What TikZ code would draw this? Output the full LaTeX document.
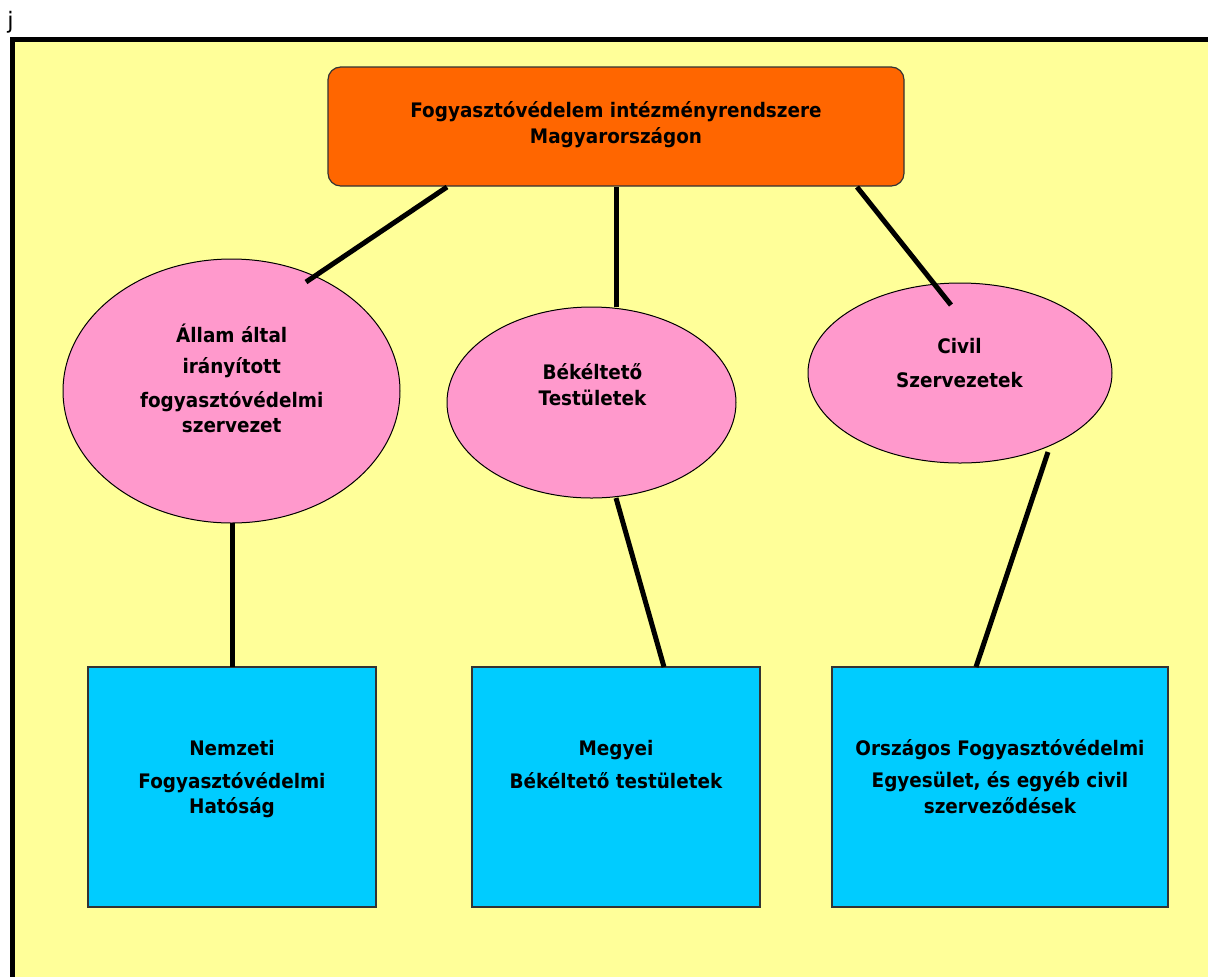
\documentclass[tikz,border=0pt]{standalone}
\usepackage{fontspec}
\setmainfont{DejaVu Sans}[FakeStretch=0.92]
\newfontfamily\jfont{DejaVu Sans}
\usetikzlibrary{shapes.geometric}
\definecolor{bgyellow}{HTML}{FFFF99}
\definecolor{toporange}{HTML}{FF6600}
\definecolor{elpink}{HTML}{FF99CC}
\definecolor{boxcyan}{HTML}{00CCFF}
\definecolor{edgegray}{HTML}{333333}
\tikzset{
  topbox/.style={draw=edgegray, line width=0.9pt, fill=toporange, rounded corners=9.5pt,
    inner sep=0pt, minimum width=576*0.75pt, minimum height=119*0.75pt},
  ovalbox/.style={ellipse, draw=black, line width=0.75pt, fill=elpink, inner sep=0pt},
  leafbox/.style={rectangle, draw=edgegray, line width=0.9pt, fill=boxcyan, inner sep=0pt,
    minimum height=240*0.75pt},
  link/.style={line width=3.75pt, black},
  lbl/.style={anchor=base, inner sep=0pt, font=\bfseries\fontsize{15pt}{18pt}\selectfont}
}
\begin{document}
\begin{tikzpicture}[x=0.75pt, y=-0.75pt]
\useasboundingbox (0,0) rectangle (1208,976);
% frame
\fill[white] (0,0) rectangle (1208,976);
\draw[line width=3.75pt, fill=bgyellow] (12.5,39.5) rectangle (1240,1010);
\node[anchor=base, inner sep=0pt, font=\jfont\fontsize{17pt}{20pt}\selectfont] (jlabel) at (10.5,28) {j};

% shapes
\node[topbox] (top) at (616,126.5) {};
\node[ovalbox, minimum width=337*0.75pt, minimum height=264*0.75pt] (e1) at (231.5,391) {};
\node[ovalbox, minimum width=289*0.75pt, minimum height=191*0.75pt] (e2) at (591.5,402.5) {};
\node[ovalbox, minimum width=304*0.75pt, minimum height=180*0.75pt] (e3) at (960,373) {};
\node[leafbox, minimum width=288*0.75pt] (r1) at (232,787) {};
\node[leafbox, minimum width=288*0.75pt] (r2) at (616,787) {};
\node[leafbox, minimum width=336*0.75pt] (r3) at (1000,787) {};

% connector end points
\coordinate (c1a) at (447,187);  \coordinate (c1b) at (306,282);
\coordinate (c2a) at (616,187);  \coordinate (c2b) at (616,307);
\coordinate (c3a) at (857,187);  \coordinate (c3b) at (951,305);
\coordinate (c4a) at (232,523);  \coordinate (c4b) at (232,667);
\coordinate (c5a) at (616,498);  \coordinate (c5b) at (664,667);
\coordinate (c6a) at (1048,452); \coordinate (c6b) at (976,667);

\draw[link] (c1a) -- (c1b);
\draw[link] (c2a) -- (c2b);
\draw[link] (c3a) -- (c3b);
\draw[link] (c4a) -- (c4b);
\draw[link] (c5a) -- (c5b);
\draw[link] (c6a) -- (c6b);

% texts
\node[lbl] (ta1) at (616,117) {Fogyasztóvédelem intézményrendszere};
\node[lbl] (ta2) at (616,143) {Magyarországon};

\node[lbl] (tb1) at (231.7,342) {Állam által};
\node[lbl] (tb2) at (231.7,373) {irányított};
\node[lbl] (tb3) at (231.7,407) {fogyasztóvédelmi};
\node[lbl] (tb4) at (231.7,432) {szervezet};

\node[lbl] (tc1) at (592.5,379) {Békéltető};
\node[lbl] (tc2) at (592.5,405) {Testületek};

\node[lbl] (td1) at (959.5,353) {Civil};
\node[lbl] (td2) at (959.5,387) {Szervezetek};

\node[lbl] (te1) at (232,755) {Nemzeti};
\node[lbl] (te2) at (232,788) {Fogyasztóvédelmi};
\node[lbl] (te3) at (232,813) {Hatóság};

\node[lbl] (tf1) at (616,755) {Megyei};
\node[lbl] (tf2) at (616,788) {Békéltető testületek};

\node[lbl] (tg1) at (1000,755) {Országos Fogyasztóvédelmi};
\node[lbl] (tg2) at (1000,787) {Egyesület, és egyéb civil};
\node[lbl] (tg3) at (1000,813) {szerveződések};
\end{tikzpicture}
\end{document}
